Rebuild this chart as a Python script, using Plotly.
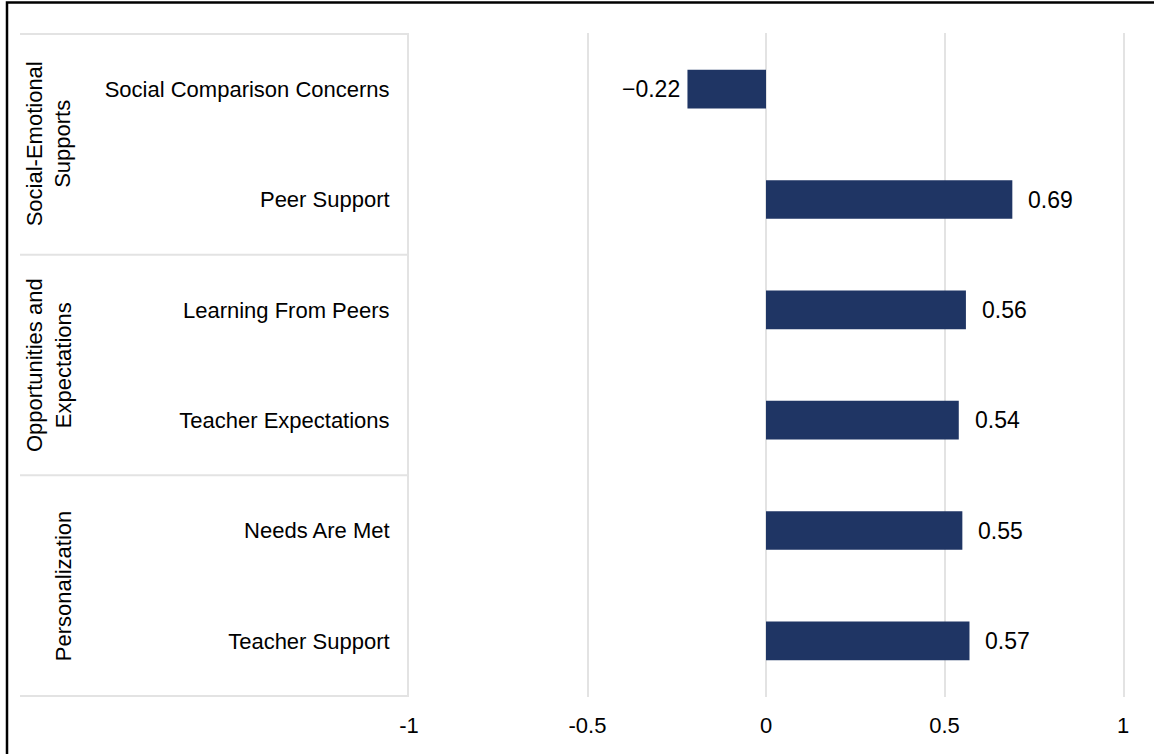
import plotly.graph_objects as go

# Data (top to bottom as displayed)
categories = ["Social Comparison Concerns", "Peer Support", "Learning From Peers",
              "Teacher Expectations", "Needs Are Met", "Teacher Support"]
values = [-0.22, 0.69, 0.56, 0.54, 0.55, 0.57]
value_labels = ["\u22120.22", "0.69", "0.56", "0.54", "0.55", "0.57"]
groups = ["Social-Emotional<br>Supports", "Opportunities and<br>Expectations", "Personalization"]
group_members = [2, 2, 2]
x_ticks = [-1, -0.5, 0, 0.5, 1]
x_tick_text = ["-1", "-0.5", "0", "0.5", "1"]

BAR_COLOR = "#1f3564"
FONT = "Liberation Sans"
GRID = "#e3e3e3"

fig = go.Figure()
fig.add_trace(go.Bar(
    x=values, y=categories, orientation="h",
    marker=dict(color=BAR_COLOR, line=dict(width=0)),
    hoverinfo="x+y", showlegend=False,
))

annotations = []
# value labels
for cat, v, lab in zip(categories, values, value_labels):
    annotations.append(dict(
        x=v, y=cat, xref="x", yref="y", text=lab, showarrow=False,
        xanchor="left" if v >= 0 else "right",
        xshift=14 if v >= 0 else -5,
        font=dict(family=FONT, size=23, color="#000000"),
    ))

# group labels and dividers
shapes = []
start = 0
label_x_right = (78 - 409) / 714
div_left = (20 - 409) / 714
boundaries = [-0.5]
for g, n in zip(groups, group_members):
    center = start + (n - 1) / 2
    annotations.append(dict(
        x=label_x_right, y=center, xref="paper", yref="y", text=g,
        textangle=-90, showarrow=False, xanchor="right", yanchor="middle",
        font=dict(family=FONT, size=22, color="#000000"),
    ))
    start += n
    boundaries.append(start - 0.5)
for b in boundaries:
    shapes.append(dict(type="line", xref="paper", yref="y", x0=div_left, x1=0,
                       y0=b, y1=b, line=dict(color=GRID, width=2), layer="below"))

# outer chart border
shapes.append(dict(type="rect", xref="paper", yref="paper",
                   x0=(7 - 409) / 714, x1=(1170 - 409) / 714,
                   y0=(697 - 770) / 664, y1=(697 - 2.5) / 664,
                   line=dict(color="#000000", width=2.5), fillcolor="rgba(0,0,0,0)"))

fig.update_layout(
    width=1154, height=754,
    margin=dict(l=409, r=31, t=33, b=57),
    paper_bgcolor="white", plot_bgcolor="white",
    bargap=0.65,
    font=dict(family=FONT, size=22, color="#000000"),
    xaxis=dict(
        range=[-1, 1], tickvals=x_ticks, ticktext=x_tick_text,
        showgrid=True, gridcolor=GRID, gridwidth=2, zeroline=False,
        showline=False, ticks="", ticklabelstandoff=13,
        tickfont=dict(family=FONT, size=22, color="#000000"),
        fixedrange=True,
    ),
    yaxis=dict(
        categoryorder="array", categoryarray=categories, autorange="reversed",
        showgrid=False, zeroline=False, ticks="",
        showline=True, mirror=True, linecolor=GRID, linewidth=2,
        ticklabelstandoff=13,
        tickfont=dict(family=FONT, size=22, color="#000000"),
        fixedrange=True,
    ),
    annotations=annotations, shapes=shapes,
)

fig.write_html("out.html", config={"displayModeBar": False},
               post_script="document.body.style.margin='0';")
